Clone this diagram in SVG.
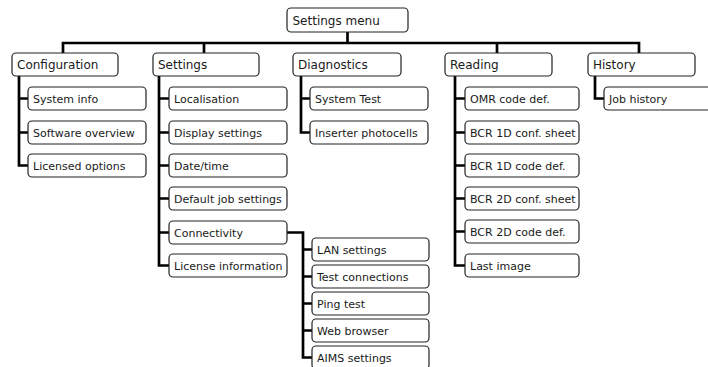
<svg xmlns="http://www.w3.org/2000/svg" width="708" height="367" viewBox="0 0 708 367">
<style>
.b{fill:#fff;stroke:#222;stroke-width:1.2}
.t{font-family:"DejaVu Sans",Verdana,sans-serif;font-size:11px;fill:#1a1a1a}
.r{font-size:12px}
#connectors path{fill:none;stroke:#000;stroke-width:2.7}
</style>
<rect width="708" height="367" fill="#fff"/>
<g id="connectors">
<path d="M347.5 32V43M63 53V43H639V53M204 43V53M497 43V53"/>
<path d="M19 76V165.5H28M19 98.5H28M19 132.5H28"/>
<path d="M159 76V265.5H169M159 98.5H169M159 132.5H169M159 165.5H169M159 198.5H169M159 232.5H169"/>
<path d="M287 232.5H303V357.5H312M303 249.5H312M303 276.5H312M303 303.5H312M303 330.5H312"/>
<path d="M301 76V132.5H310M301 98.5H310"/>
<path d="M455 76V265.5H465M455 98.5H465M455 132.5H465M455 165.5H465M455 198.5H465M455 231.5H465"/>
<path d="M595 76V98.5H604"/>
</g>
<g id="n-root"><rect class="b" x="287" y="8" width="121" height="24" rx="4"/><text class="t r" x="292.5" y="24.5">Settings menu</text></g>
<g id="n-config"><rect class="b" x="12" y="53" width="106" height="23" rx="4"/><text class="t r" x="17" y="69">Configuration</text></g>
<g id="n-settings"><rect class="b" x="153" y="53" width="106" height="23" rx="4"/><text class="t r" x="158" y="69">Settings</text></g>
<g id="n-diag"><rect class="b" x="293" y="53" width="108" height="23" rx="4"/><text class="t r" x="298" y="69">Diagnostics</text></g>
<g id="n-reading"><rect class="b" x="445" y="53" width="107" height="23" rx="4"/><text class="t r" x="450" y="69">Reading</text></g>
<g id="n-history"><rect class="b" x="588" y="53" width="107" height="23" rx="4"/><text class="t r" x="593" y="69">History</text></g>

<g id="n-sysinfo"><rect class="b" x="28" y="87" width="118" height="23" rx="4"/><text class="t" x="33" y="102.5">System info</text></g>
<g id="n-swover"><rect class="b" x="28" y="121" width="118" height="23" rx="4"/><text class="t" x="33" y="136.5">Software overview</text></g>
<g id="n-licopt"><rect class="b" x="28" y="154" width="118" height="23" rx="4"/><text class="t" x="33" y="169.5">Licensed options</text></g>

<g id="n-local"><rect class="b" x="169" y="87" width="118" height="23" rx="4"/><text class="t" x="174" y="102.5">Localisation</text></g>
<g id="n-display"><rect class="b" x="169" y="121" width="118" height="23" rx="4"/><text class="t" x="174" y="136.5">Display settings</text></g>
<g id="n-date"><rect class="b" x="169" y="154" width="118" height="23" rx="4"/><text class="t" x="174" y="169.5">Date/time</text></g>
<g id="n-defjob"><rect class="b" x="169" y="187" width="118" height="23" rx="4"/><text class="t" x="174" y="202.5">Default job settings</text></g>
<g id="n-conn"><rect class="b" x="169" y="221" width="118" height="23" rx="4"/><text class="t" x="174" y="236.5">Connectivity</text></g>
<g id="n-licinfo"><rect class="b" x="169" y="254" width="118" height="23" rx="4"/><text class="t" x="174" y="269.5">License information</text></g>

<g id="n-lan"><rect class="b" x="312" y="238" width="117" height="23" rx="4"/><text class="t" x="317" y="253.5">LAN settings</text></g>
<g id="n-testconn"><rect class="b" x="312" y="265" width="117" height="23" rx="4"/><text class="t" x="317" y="280.5">Test connections</text></g>
<g id="n-ping"><rect class="b" x="312" y="292" width="117" height="23" rx="4"/><text class="t" x="317" y="307.5">Ping test</text></g>
<g id="n-web"><rect class="b" x="312" y="319" width="117" height="23" rx="4"/><text class="t" x="317" y="334.5">Web browser</text></g>
<g id="n-aims"><rect class="b" x="312" y="346" width="117" height="23" rx="4"/><text class="t" x="317" y="361.5">AIMS settings</text></g>

<g id="n-systest"><rect class="b" x="310" y="87" width="118" height="23" rx="4"/><text class="t" x="315" y="102.5">System Test</text></g>
<g id="n-photo"><rect class="b" x="310" y="121" width="118" height="23" rx="4"/><text class="t" x="315" y="136.5">Inserter photocells</text></g>

<g id="n-omr"><rect class="b" x="465" y="87" width="114" height="23" rx="4"/><text class="t" x="470" y="102.5">OMR code def.</text></g>
<g id="n-bcr1c"><rect class="b" x="465" y="121" width="114" height="23" rx="4"/><text class="t" x="470" y="136.5">BCR 1D conf. sheet</text></g>
<g id="n-bcr1d"><rect class="b" x="465" y="154" width="114" height="23" rx="4"/><text class="t" x="470" y="169.5">BCR 1D code def.</text></g>
<g id="n-bcr2c"><rect class="b" x="465" y="187" width="114" height="23" rx="4"/><text class="t" x="470" y="202.5">BCR 2D conf. sheet</text></g>
<g id="n-bcr2d"><rect class="b" x="465" y="220" width="114" height="23" rx="4"/><text class="t" x="470" y="235.5">BCR 2D code def.</text></g>
<g id="n-last"><rect class="b" x="465" y="254" width="114" height="23" rx="4"/><text class="t" x="470" y="269.5">Last image</text></g>

<g id="n-job"><rect class="b" x="604" y="87" width="112" height="23" rx="4"/><text class="t" x="609" y="102.5">Job history</text></g>
</svg>
